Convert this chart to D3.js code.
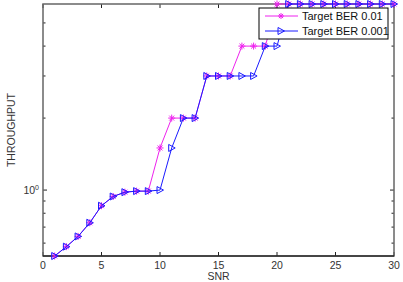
<!DOCTYPE html>
<html lang="en">
  <head>
    <meta charset="UTF-8" />
    <title>Throughput vs SNR</title>
    <style>
      body { margin: 0; background: #fff; }
      text { font-family: "Liberation Sans", Arial, sans-serif; }
    </style>
  </head>
  <body>
    <div id="chart"></div>
    <script src="https://d3js.org/d3.v7.min.js"></script>
    <script>
      // data
      const snr = d3.range(1, 31);
      const berHigh = [0.53, 0.58, 0.64, 0.73, 0.86, 0.94, 0.98, 0.99, 0.99, 1.5,
        2, 2, 2, 3, 3, 3, 4, 4, 4, 6, 6, 6, 6, 6, 6, 6, 6, 6, 6, 6];
      const berLow = [0.53, 0.58, 0.64, 0.73, 0.86, 0.94, 0.98, 0.99, 0.99, 1.0,
        1.5, 2, 2, 3, 3, 3, 3, 3, 4, 4, 6, 6, 6, 6, 6, 6, 6, 6, 6, 6];
      const xTicks = [0, 5, 10, 15, 20, 25, 30];
      const yMinor = [0.6, 0.7, 0.8, 0.9, 2, 3, 4, 5];
      const seriesNames = ["Target BER 0.01", "Target BER 0.001"];

      const width = 403, height = 282;
      const margin = { top: 4, right: 9, bottom: 26, left: 43 };

      const svg = d3.select("#chart").append("svg")
        .attr("width", width).attr("height", height);

      const x = d3.scaleLinear().domain([0, 30])
        .range([margin.left, width - margin.right]);
      const y = d3.scaleLog().domain([0.53, 6])
        .range([height - margin.bottom, margin.top]);

      const x0 = x.range()[0], x1 = x.range()[1];
      const y0 = y.range()[0], y1 = y.range()[1];

      // ticks (inward, on all four sides)
      const tk = svg.append("g").attr("stroke", "#222").attr("stroke-width", 1);
      xTicks.forEach((t) => {
        tk.append("line").attr("x1", x(t)).attr("x2", x(t)).attr("y1", y0).attr("y2", y0 - 4);
        tk.append("line").attr("x1", x(t)).attr("x2", x(t)).attr("y1", y1).attr("y2", y1 + 4);
      });
      yMinor.concat([1]).forEach((t) => {
        const len = t === 1 ? 4 : 2.5;
        tk.append("line").attr("x1", x0).attr("x2", x0 + len).attr("y1", y(t)).attr("y2", y(t));
        tk.append("line").attr("x1", x1).attr("x2", x1 - len).attr("y1", y(t)).attr("y2", y(t));
      });

      // box
      svg.append("rect")
        .attr("x", x0).attr("y", y1)
        .attr("width", x1 - x0).attr("height", y0 - y1)
        .attr("fill", "none").attr("stroke", "#666").attr("stroke-width", 1.5);
      svg.append("line")
        .attr("x1", x0).attr("x2", x1).attr("y1", y0).attr("y2", y0)
        .attr("stroke", "#000").attr("stroke-width", 1.2);

      // tick labels
      svg.append("g").selectAll("text").data(xTicks).join("text")
        .attr("x", (d) => x(d)).attr("y", y0 + 13)
        .attr("text-anchor", "middle").attr("font-size", 10.5).attr("fill", "#333")
        .text((d) => d);
      const lab = svg.append("text")
        .attr("x", x0 - 4).attr("y", y(1) + 4)
        .attr("text-anchor", "end").attr("font-size", 10.5).attr("fill", "#333");
      lab.append("tspan").text("10");
      lab.append("tspan").attr("dy", -4).attr("font-size", 7).text("0");

      // axis titles
      svg.append("text")
        .attr("x", (x0 + x1) / 2).attr("y", 280)
        .attr("text-anchor", "middle").attr("font-size", 10.5).attr("fill", "#333")
        .text("SNR");
      svg.append("text")
        .attr("transform", `translate(15,${(y0 + y1) / 2}) rotate(-90)`)
        .attr("text-anchor", "middle").attr("font-size", 10.5).attr("fill", "#333")
        .text("THROUGHPUT");

      // markers
      const starPath = (s) =>
        `M${-s},0L${s},0M0,${-s}L0,${s}M${-s * 0.7},${-s * 0.7}L${s * 0.7},${s * 0.7}M${-s * 0.7},${s * 0.7}L${s * 0.7},${-s * 0.7}`;
      const triPath = "M-3,-3.5L-3,3.5L3.5,0Z";

      const line = d3.line().x((d) => x(d[0])).y((d) => y(d[1]));
      const plot = svg.append("g");

      function drawSeries(vals, color, marker) {
        const pts = snr.map((s, i) => [s, vals[i]]);
        plot.append("path").datum(pts).attr("d", line)
          .attr("fill", "none").attr("stroke", color).attr("stroke-width", 1);
        const g = plot.append("g");
        g.selectAll("path").data(pts).join("path")
          .attr("transform", (d) => `translate(${x(d[0])},${y(d[1])})`)
          .attr("d", marker === "star" ? starPath(3.5) : triPath)
          .attr("fill", "none")
          .attr("stroke", color).attr("stroke-width", 1);
      }
      drawSeries(berHigh, "#ee22ee", "star");
      drawSeries(berLow, "#1a1aff", "tri");

      // legend
      const lg = svg.append("g");
      lg.append("rect").attr("x", 259).attr("y", 8).attr("width", 129).attr("height", 31)
        .attr("fill", "#fff").attr("stroke", "#000").attr("stroke-width", 1);
      const colors = ["#ee22ee", "#1a1aff"];
      seriesNames.forEach((name, i) => {
        const ly = 16 + i * 15;
        lg.append("line").attr("x1", 265).attr("x2", 298).attr("y1", ly).attr("y2", ly)
          .attr("stroke", colors[i]).attr("stroke-width", 1);
        lg.append("path").attr("transform", `translate(281,${ly})`)
          .attr("d", i === 0 ? starPath(3) : triPath)
          .attr("fill", "none").attr("stroke", colors[i]);
        lg.append("text").attr("x", 302).attr("y", ly + 4)
          .attr("font-size", 11).attr("fill", "#111").text(name);
      });
    </script>
  </body>
</html>
